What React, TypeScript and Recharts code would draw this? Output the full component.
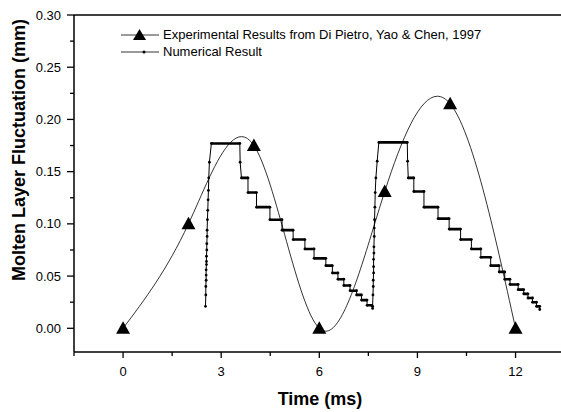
import React from 'react';
import { ComposedChart, Line, XAxis, YAxis, ReferenceLine, Legend } from 'recharts';

// experimental points (Di Pietro, Yao & Chen, 1997)
const expTime = [0, 2, 4, 6, 8, 10, 12];
const expValue = [0, 0.1, 0.175, 0, 0.131, 0.215, 0];

// numerical result, first melt cycle (time ms, fluctuation mm)
const numCycle1: [number, number][] = [
  [2.52, 0.021], [2.53, 0.032], [2.53, 0.04], [2.54, 0.046], [2.54, 0.051], [2.54, 0.056],
  [2.55, 0.061], [2.55, 0.064], [2.55, 0.069], [2.56, 0.075], [2.56, 0.081], [2.57, 0.088],
  [2.57, 0.094], [2.58, 0.104], [2.59, 0.113], [2.6, 0.123], [2.61, 0.132], [2.62, 0.144],
  [2.64, 0.159], [2.7, 0.177], [3.57, 0.177], [3.58, 0.159], [3.62, 0.144], [3.82, 0.144],
  [3.82, 0.13], [4.08, 0.13], [4.08, 0.116], [4.49, 0.116], [4.49, 0.104], [4.86, 0.104],
  [4.86, 0.094], [5.2, 0.094], [5.2, 0.085], [5.56, 0.085], [5.56, 0.076], [5.84, 0.076],
  [5.84, 0.067], [6.2, 0.067], [6.2, 0.06], [6.4, 0.06], [6.4, 0.053], [6.57, 0.053],
  [6.57, 0.047], [6.75, 0.047], [6.75, 0.041], [6.94, 0.041], [6.94, 0.036], [7.14, 0.036],
  [7.14, 0.032], [7.29, 0.032], [7.29, 0.027], [7.46, 0.027], [7.46, 0.022], [7.6, 0.022],
  [7.63, 0.019],
];

// second melt cycle
const numCycle2: [number, number][] = [
  [7.63, 0.021], [7.64, 0.032], [7.65, 0.04], [7.65, 0.046], [7.66, 0.053], [7.66, 0.059],
  [7.66, 0.066], [7.67, 0.072], [7.67, 0.078], [7.68, 0.088], [7.68, 0.096], [7.69, 0.104],
  [7.7, 0.116], [7.71, 0.13], [7.73, 0.144], [7.77, 0.16], [7.82, 0.178], [8.69, 0.178],
  [8.7, 0.16], [8.72, 0.144], [8.89, 0.144], [8.89, 0.131], [9.2, 0.131], [9.2, 0.116],
  [9.63, 0.116], [9.63, 0.105], [9.97, 0.105], [9.97, 0.095], [10.32, 0.095], [10.32, 0.085],
  [10.65, 0.085], [10.65, 0.076], [10.94, 0.076], [10.94, 0.068], [11.24, 0.068], [11.24, 0.06],
  [11.5, 0.06], [11.5, 0.054], [11.67, 0.054], [11.67, 0.047], [11.83, 0.047], [11.83, 0.042],
  [12.08, 0.042], [12.08, 0.037], [12.25, 0.037], [12.25, 0.033], [12.38, 0.033], [12.38, 0.029],
  [12.52, 0.029], [12.52, 0.025], [12.64, 0.025], [12.64, 0.021], [12.74, 0.021], [12.74, 0.018],
];

const xMajor = [0, 3, 6, 9, 12];
const xMinor = [-1.5, 1.5, 4.5, 7.5, 10.5];
const yMajor = [0, 0.05, 0.1, 0.15, 0.2, 0.25, 0.3];
const yMinor = [0.025, 0.075, 0.125, 0.175, 0.225, 0.275];

const legendLabels = ['Experimental Results from Di Pietro, Yao & Chen, 1997', 'Numerical Result'];

const FONT = "Arial, 'Liberation Sans', Helvetica, sans-serif";
const W = 561;
const H = 412;
const PLOT_LEFT = 74;
const PLOT_BOTTOM = 352;

const expData = expTime.map((t, i) => ({ x: t, y: expValue[i] }));
const numData = [...numCycle1, ...numCycle2].map(([x, y]) => ({ x, y }));

// the flat parts of the staircase look heavier (dense samples) - redraw them thicker
const plateauData: { x: number; y: number | null }[] = [];
for (let i = 0; i < numData.length - 1; i++) {
  const a = numData[i];
  const b = numData[i + 1];
  if (a.y === b.y && b.x > a.x) {
    plateauData.push(a, b, { x: b.x, y: null });
  }
}

const XTick = (props: any) => {
  const { x, payload } = props;
  const major = xMajor.includes(payload.value);
  return (
    <g>
      <line x1={x} x2={x} y1={PLOT_BOTTOM} y2={PLOT_BOTTOM + (major ? 6 : 4)} stroke="#000" strokeWidth={1.3} />
      {major && (
        <text x={x} y={PLOT_BOTTOM + 24} textAnchor="middle" fontSize={13} fontFamily={FONT} fill="#000">
          {payload.value}
        </text>
      )}
    </g>
  );
};

const YTick = (props: any) => {
  const { y, payload } = props;
  const major = yMajor.some((v) => Math.abs(v - payload.value) < 1e-9);
  return (
    <g>
      <line x1={PLOT_LEFT - (major ? 7 : 4)} x2={PLOT_LEFT} y1={y} y2={y} stroke="#000" strokeWidth={1.3} />
      {major && (
        <text x={61} y={y + 4.5} textAnchor="end" fontSize={13} fontFamily={FONT} fill="#000">
          {payload.value.toFixed(2)}
        </text>
      )}
    </g>
  );
};

const Triangle = (props: any) => {
  const { cx, cy } = props;
  if (cx == null || cy == null) return null;
  return <polygon points={`${cx - 7},${cy + 5.5} ${cx + 7},${cy + 5.5} ${cx},${cy - 7}`} fill="#000" />;
};

const LegendBox = () => (
  <div style={{ fontFamily: FONT, fontSize: 13, color: '#000', lineHeight: '17px' }}>
    <div style={{ display: 'flex', alignItems: 'center', height: 17, whiteSpace: 'nowrap' }}>
      <svg width={44} height={17}>
        <line x1={2} x2={40} y1={9} y2={9} stroke="#000" strokeWidth={0.8} />
        <polygon points="14,14 27,14 20.5,3" fill="#000" />
      </svg>
      <span>{legendLabels[0]}</span>
    </div>
    <div style={{ display: 'flex', alignItems: 'center', height: 17, whiteSpace: 'nowrap' }}>
      <svg width={44} height={17}>
        <line x1={2} x2={40} y1={9} y2={9} stroke="#000" strokeWidth={0.8} />
        <circle cx={25} cy={9} r={1.5} fill="#000" />
      </svg>
      <span>{legendLabels[1]}</span>
    </div>
  </div>
);

const xTitle = () => (
  <text x={320} y={399} textAnchor="middle" dominantBaseline="central" fontSize={18} fontWeight="bold" fontFamily={FONT} fill="#000">
    Time (ms)
  </text>
);

const yTitle = () => (
  <text x={19} y={150} transform="rotate(-90 19 150)" textAnchor="middle" dominantBaseline="central" fontSize={18} fontWeight="bold" fontFamily={FONT} fill="#000">
    Molten Layer Fluctuation (mm)
  </text>
);

export default function App() {
  return (
    <div style={{ position: 'absolute', left: 0, top: 0, width: W, height: H, background: '#fff' }}>
      <ComposedChart width={W} height={H} margin={{ top: 15, right: 0, bottom: 0, left: 0 }}>
        <XAxis
          type="number"
          dataKey="x"
          domain={[-1.5, 13.39]}
          ticks={[...xMinor, ...xMajor].sort((a, b) => a - b)}
          interval={0}
          allowDataOverflow
          height={60}
          tickLine={false}
          axisLine={{ stroke: '#000', strokeWidth: 1.5 }}
          tick={(p: any) => <XTick {...p} />}
          label={{ content: xTitle }}
        />
        <YAxis
          type="number"
          domain={[-0.0227, 0.3]}
          ticks={[...yMinor, ...yMajor].sort((a, b) => a - b)}
          interval={0}
          allowDataOverflow
          width={74}
          tickLine={false}
          axisLine={{ stroke: '#000', strokeWidth: 1.5 }}
          tick={(p: any) => <YTick {...p} />}
          label={{ content: yTitle }}
        />
        <ReferenceLine y={0.3} stroke="#000" strokeWidth={1.5} ifOverflow="visible" />
        <Legend
          verticalAlign="middle"
          align="center"
          content={() => <LegendBox />}
          wrapperStyle={{ top: 26, left: 119, width: 440, height: 36 }}
        />
        <Line
          data={numData}
          dataKey="y"
          type="linear"
          stroke="#000"
          strokeWidth={1}
          dot={{ r: 1.4, fill: '#000', stroke: 'none' }}
          isAnimationActive={false}
          legendType="none"
        />
        <Line
          data={plateauData}
          dataKey="y"
          type="linear"
          stroke="#000"
          strokeWidth={2.6}
          dot={false}
          connectNulls={false}
          isAnimationActive={false}
          legendType="none"
        />
        <Line
          data={expData}
          dataKey="y"
          type="natural"
          stroke="#000"
          strokeWidth={0.8}
          dot={(p: any) => <Triangle key={`t${p.index}`} {...p} />}
          isAnimationActive={false}
          legendType="none"
        />
      </ComposedChart>
    </div>
  );
}
